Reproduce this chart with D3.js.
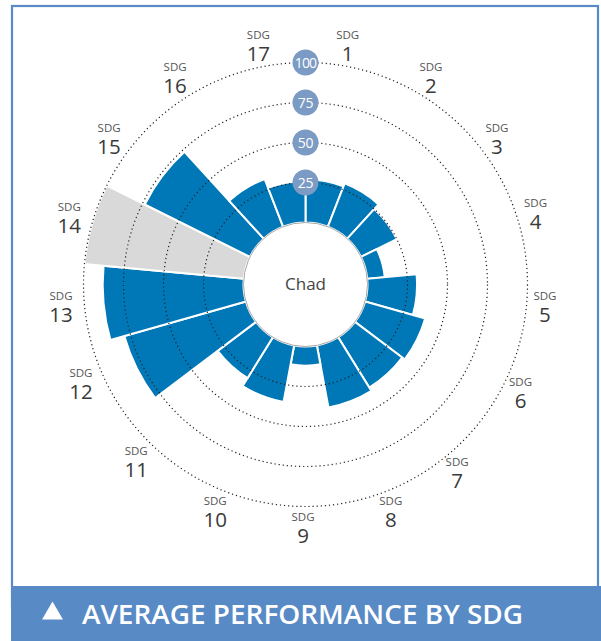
<!DOCTYPE html>
<html>
<head>
<meta charset="utf-8">
<script src="https://cdn.jsdelivr.net/npm/d3@7"></script>
<style>
  html, body { margin: 0; padding: 0; background: #fff; }
  svg { display: block; }
</style>
</head>
<body>
<svg id="chart" width="601" height="641"></svg>
<script>
// SDG goals shown around the wheel, clockwise from the top
const goals = ["1", "2", "3", "4", "5", "6", "7", "8", "9", "10", "11", "12", "13", "14", "15", "16", "17"];
// Average performance per goal (0-100); null = no data (drawn grey, full length)
const scores = [27, 29, 25, 11, 31, 39, 37, 39.5, 12, 36, 30, 79, 88, null, 73.5, 32, 26];
// Reference rings
const ringTicks = [25, 50, 75, 100];
const countryName = "Chad";
const title = "AVERAGE PERFORMANCE BY SDG";

// Small angular nudges (degrees) for a few goal labels
const labelNudge = { "4": -1, "7": 3, "11": 1, "12": 2.5 };

const svg = d3.select("#chart");
const cx = 305.5, cy = 284.5;
const innerR = 62, outerR = 222;

// Panel frame and bottom banner
const frameBlue = "#588ac6";
svg.append("rect")
  .attr("x", 12).attr("y", 6).attr("width", 586).attr("height", 600)
  .attr("fill", "#fff").attr("stroke", frameBlue).attr("stroke-width", 2.2);
svg.append("rect")
  .attr("x", 11).attr("y", 586).attr("width", 590).attr("height", 55)
  .attr("fill", frameBlue);

const g = svg.append("g").attr("transform", `translate(${cx},${cy})`);

const angle = d3.scaleBand().domain(goals).range([0, 2 * Math.PI]).padding(0);
const radius = d3.scaleLinear().domain([0, 100]).range([innerR, outerR]);

const rows = goals.map((k, i) => ({ goal: k, value: scores[i] }));

const arc = d3.arc()
  .innerRadius(innerR)
  .outerRadius(d => radius(d.value == null ? 100 : d.value))
  .startAngle(d => angle(d.goal))
  .endAngle(d => angle(d.goal) + angle.bandwidth());

// Bars
g.append("g").selectAll("path")
  .data(rows)
  .join("path")
  .attr("d", arc)
  .attr("fill", d => d.value == null ? "#d9d9d9" : "#0077b6")
  .attr("stroke", "#fff")
  .attr("stroke-width", 2)
  .attr("stroke-linejoin", "miter");

// Center disc
g.append("circle")
  .attr("r", innerR)
  .attr("fill", "#fff")
  .attr("stroke", "#a8a8a8")
  .attr("stroke-width", 1);

// Dotted reference rings
g.append("g").selectAll("circle")
  .data(ringTicks)
  .join("circle")
  .attr("r", d => radius(d))
  .attr("fill", "none")
  .attr("stroke", "#222")
  .attr("stroke-width", 1.2)
  .attr("stroke-dasharray", "1.2 2.9");

// Ring value badges at the top
const badges = g.append("g").selectAll("g")
  .data(ringTicks)
  .join("g")
  .attr("transform", d => `translate(0,${-radius(d)})`);
badges.append("circle")
  .attr("r", 13)
  .attr("fill", "#7b9bc4");
badges.append("text")
  .attr("text-anchor", "middle")
  .attr("dy", "0.36em")
  .attr("fill", "#fff")
  .style("font-family", "'Open Sans', sans-serif")
  .style("font-size", "14px")
  .style("letter-spacing", d => d >= 100 ? "-0.8px" : "-0.3px")
  .text(d => d);

// Goal labels around the wheel
const labelR = 243;
const lg = svg.append("g").attr("transform", `translate(${cx - 2.5},${cy - 0.5})`);
const labels = lg.selectAll("g")
  .data(goals)
  .join("g")
  .attr("transform", d => {
    const a = angle(d) + angle.bandwidth() / 2 + (labelNudge[d] || 0) * Math.PI / 180;
    return `translate(${labelR * Math.sin(a)},${-labelR * Math.cos(a)})`;
  });
labels.append("text")
  .attr("text-anchor", "middle")
  .attr("y", -6)
  .attr("fill", "#555")
  .style("font-family", "'Open Sans', sans-serif")
  .style("font-size", "11.5px")
  .text("SDG");
labels.append("text")
  .attr("text-anchor", "middle")
  .attr("y", 16)
  .attr("fill", "#3a3a3a")
  .style("font-family", "'Open Sans', sans-serif")
  .style("font-size", "20.5px")
  .text(d => d);

// Country name
g.append("text")
  .attr("text-anchor", "middle")
  .attr("dy", "0.35em")
  .attr("fill", "#444")
  .style("font-family", "'Open Sans', sans-serif")
  .style("font-size", "17px")
  .text(countryName);

// Banner title with triangle marker
svg.append("path")
  .attr("d", d3.symbol().type(d3.symbolTriangle).size(190)())
  .attr("transform", "translate(52.5,613.5)")
  .attr("fill", "#fff");
svg.append("text")
  .attr("x", 82).attr("y", 624)
  .attr("fill", "#fff")
  .style("font-family", "'Open Sans', sans-serif")
  .style("font-weight", 600)
  .style("font-size", "27px")
  .attr("textLength", 441)
  .attr("lengthAdjust", "spacingAndGlyphs")
  .text(title);
</script>
</body>
</html>
